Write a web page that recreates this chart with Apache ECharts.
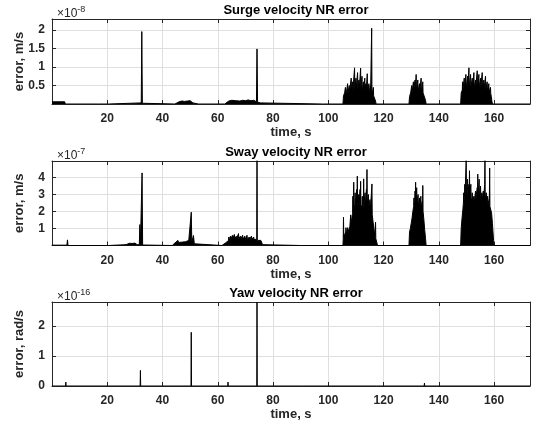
<!DOCTYPE html>
<html>
<head>
<meta charset="utf-8">
<script src="https://cdn.jsdelivr.net/npm/echarts@6/dist/echarts.min.js"></script>
<style>
html,body{margin:0;padding:0;background:#fff;}
#c{width:539px;height:429px;}
</style>
</head>
<body>
<div id="c"></div>
<script>
// ---- data (values in units of the axis exponent) ----
const titles = ['Surge velocity NR error', 'Sway velocity NR error', 'Yaw velocity NR error'];
const yNames = ['error, m/s', 'error, m/s', 'error, rad/s'];
const exponents = ['-8', '-7', '-16'];
const xName = 'time, s';

// Surge error [time s, value x1e-8]
const surgeData = [
[0,0.06],[4.6,0.06],[4.8,0],
[16.8,0],[16.9,0.04],[17.0,0],
[20.5,0],[20.6,0.03],[32.3,0.03],[32.5,1.96],[32.7,0.02],[32.9,0],
[44.5,0],[45,0.04],[46,0.06],[47,0.08],[48,0.07],[49,0.08],[50,0.09],[50.5,0.1],[51,0.03],[51.3,0],
[53,0],[53.1,0.02],[53.3,0],
[62.5,0],[63,0.04],[64,0.08],[65,0.1],[65.2,0.07],[66.5,0.09],[67,0.11],[68,0.08],[69,0.1],[70,0.09],[71,0.11],[72,0.09],[73,0.1],[73.5,0.12],[74,0.06],[74.2,1.49],[74.4,0.05],[75.5,0.03],[76,0],
[97.9,0],[98,0.02],[98.2,0],
[105.3,0],[105.5,0.22],[105.9,0.3],[106.1,0.3],[106.2,0.45],[106.3,0.28],[106.6,0.35],[106.9,0.3],[107.0,0.55],[107.1,0.3],[107.5,0.3],[107.6,0.5],[107.7,0.32],[108.2,0.35],[108.3,0.7],[108.4,0.35],[108.7,0.35],[108.8,0.6],[108.9,0.35],[109.4,0.4],[109.5,0.98],[109.6,0.4],[109.9,0.4],[110.0,0.7],[110.1,0.4],[110.5,0.4],[110.6,0.85],[110.7,0.4],[111.0,0.38],[111.1,0.65],[111.2,0.38],[111.6,0.4],[111.7,0.97],[111.8,0.4],[112.1,0.38],[112.2,0.75],[112.3,0.35],[112.6,0.35],[112.7,0.6],[112.8,0.35],[113.1,0.35],[113.2,0.7],[113.3,0.35],[113.5,0.35],[113.6,0.55],[113.7,0.33],[114.0,0.33],[114.1,0.82],[114.2,0.3],[114.6,0.3],[114.7,0.55],[114.8,0.3],[115.1,0.28],[115.2,0.5],[115.3,0.28],[115.6,0.28],[115.7,2.05],[115.8,0.25],[116.2,0.25],[116.3,0.45],[116.4,0.22],[116.8,0.2],[117.1,0.08],[117.3,0],
[129.2,0],[129.4,0.2],[129.8,0.3],[130.1,0.3],[130.2,0.5],[130.3,0.3],[130.7,0.35],[130.8,0.6],[130.9,0.35],[131.3,0.35],[131.4,0.65],[131.5,0.38],[131.7,0.38],[131.8,0.8],[131.9,0.38],[132.3,0.38],[132.4,0.65],[132.5,0.35],[132.9,0.35],[133.0,0.55],[133.1,0.35],[133.5,0.35],[133.6,0.7],[133.7,0.32],[134.1,0.32],[134.2,0.6],[134.3,0.3],[134.8,0.25],[135.2,0.1],[135.4,0],
[147.9,0],[148.1,0.3],[148.5,0.38],[148.6,0.6],[148.7,0.38],[149.1,0.4],[149.2,0.7],[149.3,0.4],[149.7,0.42],[149.8,0.8],[149.9,0.42],[150.3,0.42],[150.4,0.75],[150.5,0.42],[150.8,0.45],[150.9,0.98],[151.0,0.45],[151.4,0.45],[151.5,0.8],[151.6,0.45],[152.0,0.45],[152.1,0.7],[152.2,0.45],[152.6,0.45],[152.7,0.85],[152.8,0.45],[153.2,0.45],[153.3,0.65],[153.4,0.45],[153.8,0.45],[153.9,0.9],[154.0,0.45],[154.4,0.45],[154.5,0.8],[154.6,0.45],[155.0,0.42],[155.1,0.7],[155.2,0.42],[155.6,0.42],[155.7,0.85],[155.8,0.42],[156.2,0.4],[156.3,0.65],[156.4,0.4],[156.8,0.4],[156.9,0.75],[157.0,0.4],[157.4,0.38],[157.5,0.6],[157.6,0.36],[158.0,0.35],[158.1,0.55],[158.2,0.32],[158.6,0.3],[158.7,0.45],[158.8,0.28],[159.0,0.2],[159.2,0.08],[159.4,0],
[173,0]
];

// Sway error [time s, value x1e-7]
const swayData = [
[0,0.02],[5.4,0.02],[5.6,0.33],[5.8,0],
[20.5,0],[20.6,0.05],[26.8,0.05],[27,0.12],[28,0.13],[29,0.12],[30,0.14],[30.6,0.13],[30.8,0.05],[31.6,0.05],[31.8,1.23],[32,0.05],[32.4,0.05],[32.6,4.27],[32.8,0.03],[33,0],
[43.5,0],[43.8,0.08],[44.5,0.15],[45.2,0.12],[45.6,0.3],[45.8,0.18],[46.5,0.22],[47.2,0.2],[47.8,0.28],[48.3,0.22],[49,0.25],[49.5,0.3],[50,0.25],[50.2,0.3],[50.4,1.96],[50.6,0.2],[51,0.2],[51.2,0.59],[51.5,0.1],[52,0],
[61.5,0],[62,0.08],[62.8,0.15],[63.4,0.25],[63.9,0.3],[64.0,0.5],[64.1,0.3],[64.5,0.35],[64.6,0.55],[64.7,0.35],[65.2,0.38],[65.3,0.6],[65.4,0.38],[65.9,0.38],[66.0,0.65],[66.1,0.38],[66.6,0.38],[66.7,0.55],[66.8,0.38],[67.4,0.4],[67.5,0.7],[67.6,0.4],[68.1,0.4],[68.2,0.55],[68.3,0.38],[68.9,0.38],[69.0,0.6],[69.1,0.38],[69.7,0.38],[69.8,0.55],[69.9,0.36],[70.5,0.36],[70.6,0.6],[70.7,0.36],[71.3,0.36],[71.4,0.5],[71.5,0.36],[72.1,0.36],[72.2,0.55],[72.3,0.36],[72.9,0.36],[73.0,0.5],[73.1,0.36],[74.1,0.36],[74.2,5],[74.3,0.3],[75.0,0.3],[75.6,0.3],[75.7,0.38],[76.0,0.3],[76.2,0.05],[76.5,0],
[90,0],[90.2,0.05],[90.4,0],
[105.3,0],[105.4,0.4],[105.5,1.66],[105.6,0.5],[106.0,0.6],[106.3,0.8],[106.4,1.05],[106.5,0.7],[106.9,0.8],[107.0,1.05],[107.1,0.8],[107.5,0.9],[107.8,1.1],[108.0,1.2],[108.1,1.8],[108.2,1.3],[108.5,1.6],[108.8,1.9],[108.9,2.9],[109.0,2.0],[109.1,2.2],[109.2,3.72],[109.3,2.2],[109.6,2.4],[109.7,3.1],[109.8,2.3],[110.2,2.4],[110.3,3.3],[110.4,2.5],[110.5,4.08],[110.6,2.5],[110.9,2.3],[111.0,3.0],[111.1,2.2],[111.4,2.3],[111.5,3.3],[111.6,2.4],[111.7,3.78],[111.8,2.4],[112.2,2.2],[112.3,2.9],[112.4,2.0],[112.7,2.4],[112.8,3.92],[112.9,2.4],[113.2,2.3],[113.3,3.1],[113.4,2.3],[113.7,2.4],[113.8,3.3],[113.9,2.4],[114.0,4.47],[114.1,2.4],[114.4,2.3],[114.5,3.0],[114.6,2.2],[115.0,2.1],[115.1,2.7],[115.2,2.0],[115.7,2.0],[115.8,3.62],[115.9,1.8],[116.2,1.4],[116.5,1.0],[116.8,0.6],[117.0,0.5],[117.1,1.37],[117.2,0.4],[117.6,0.15],[117.8,0],
[129.2,0],[129.4,0.8],[129.7,1.0],[130.0,1.3],[130.3,1.6],[130.6,2.0],[130.9,2.3],[131.0,2.8],[131.1,2.4],[131.3,2.6],[131.4,3.2],[131.5,2.7],[131.6,3.72],[131.7,2.7],[131.9,2.6],[132.0,3.4],[132.1,2.5],[132.4,2.4],[132.5,3.0],[132.6,2.3],[132.9,2.2],[133.0,2.8],[133.1,2.2],[133.4,2.3],[133.5,2.9],[133.6,2.2],[133.9,2.2],[134.0,2.6],[134.1,2.2],[134.2,3.53],[134.3,2.0],[134.6,1.5],[134.9,0.9],[135.2,0.4],[135.4,0],
[137,0],[137.2,0.05],[137.4,0],[139,0],[139.2,0.08],[139.4,0],
[147.9,0],[148.1,1.0],[148.4,1.6],[148.7,2.1],[148.9,2.5],[149.0,3.1],[149.1,2.6],[149.3,2.9],[149.4,3.6],[149.5,2.9],[149.8,3.0],[149.9,5],[150.0,3.0],[150.3,3.1],[150.4,3.9],[150.5,3.0],[150.8,3.1],[150.9,3.6],[151.0,3.0],[151.1,4.4],[151.2,3.0],[151.5,2.9],[151.6,3.6],[151.7,2.8],[152.0,2.6],[152.1,3.1],[152.2,2.5],[152.6,2.5],[152.7,2.9],[152.8,2.5],[153.2,2.6],[153.3,3.2],[153.4,2.7],[153.8,2.8],[153.9,3.4],[154.0,2.8],[154.1,4.2],[154.2,2.9],[154.5,2.9],[154.6,3.9],[154.7,2.9],[155.0,2.8],[155.1,3.5],[155.2,2.8],[155.5,2.7],[155.6,3.1],[155.7,2.7],[156.0,2.7],[156.1,3.2],[156.2,2.7],[156.5,2.7],[156.6,3.6],[156.7,5],[156.8,2.7],[157.1,2.6],[157.2,3.1],[157.3,2.5],[157.6,2.5],[157.7,2.9],[157.8,2.4],[158.2,2.4],[158.3,2.8],[158.4,4.56],[158.5,2.3],[158.8,2.2],[159.1,1.9],[159.4,1.3],[159.6,0.8],[159.8,0.3],[160,0],
[162,0],[162.2,0.04],[162.4,0],[166,0],[166.2,0.03],[166.4,0],[170,0],[170.2,0.03],[170.4,0],
[173,0]
];

// Yaw error [time s, value x1e-16]
const yawData = [
[0,0],[4.9,0],[5,0.13],[5.1,0],[31.9,0],[32,0.52],[32.1,0],[50.3,0],[50.4,1.79],[50.5,0],
[63.6,0],[63.7,0.13],[63.8,0],[74.1,0],[74.2,2.8],[74.3,0],[90.7,0],[90.8,0.05],[90.9,0],
[117.5,0],[117.6,0.05],[117.7,0],[134.7,0],[134.8,0.1],[134.9,0],[173,0]
];

const xRange = [0, 173];
const xStep = 20;
const yRanges = [[0, 2.3], [0, 4.97], [0, 2.8]];
const ySteps = [0.5, 1, 1];
const showYZero = [false, false, true];

// ---- layout ----
const FONT = 'Liberation Sans, Arial, Helvetica, sans-serif';
const INK = '#262626';
const GRIDC = '#dfdfdf';
const FS = 13;
const TICKFS = 12;
const gridTops = [19, 161, 302];
const gridHeights = [85, 84.5, 84];
const LEFT = 52, RIGHT = 9;
const plotCenter = LEFT + (539 - LEFT - RIGHT) / 2;
const dataSets = [surgeData, swayData, yawData];

const grids = [], xAxes = [], yAxes = [], series = [], titleList = [];
for (let i = 0; i < 3; i++) {
  grids.push({left: LEFT, right: RIGHT, top: gridTops[i], height: gridHeights[i],
    containLabel: false, outerBoundsMode: 'none'});
  const xBase = {
    type: 'value', gridIndex: i, min: xRange[0], max: xRange[1], interval: xStep,
    axisLine: {show: true, onZero: false, lineStyle: {color: INK, width: 1}},
    axisTick: {show: true, inside: true, length: 4, lineStyle: {color: INK}},
    splitLine: {show: false}
  };
  xAxes.push(Object.assign({}, xBase, {
    position: 'bottom',
    name: xName, nameLocation: 'middle', nameGap: 22, nameMoveOverlap: false,
    nameTextStyle: {fontFamily: FONT, fontWeight: 'bold', fontSize: FS, color: INK},
    axisLabel: {show: true, showMinLabel: false, showMaxLabel: false, margin: 9,
      fontFamily: FONT, fontWeight: 'bold', fontSize: TICKFS, color: INK},
    splitLine: {show: true, lineStyle: {color: GRIDC, width: 1}}
  }));
  xAxes.push(Object.assign({}, xBase, {position: 'top', axisLabel: {show: false}}));
  const yBase = {
    type: 'value', gridIndex: i, min: yRanges[i][0], max: yRanges[i][1], interval: ySteps[i],
    axisLine: {show: true, onZero: false, lineStyle: {color: INK, width: 1}},
    axisTick: {show: true, inside: true, length: 4, lineStyle: {color: INK}},
    splitLine: {show: false}
  };
  yAxes.push(Object.assign({}, yBase, {
    position: 'left',
    name: yNames[i], nameLocation: 'middle', nameGap: 26, nameRotate: 90, nameMoveOverlap: false,
    nameTextStyle: {fontFamily: FONT, fontWeight: 'bold', fontSize: FS, color: INK},
    axisLabel: {show: true, showMinLabel: showYZero[i], showMaxLabel: false, margin: 7,
      fontFamily: FONT, fontWeight: 'bold', fontSize: TICKFS, color: INK},
    splitLine: {show: true, lineStyle: {color: GRIDC, width: 1}}
  }));
  yAxes.push(Object.assign({}, yBase, {position: 'right', axisLabel: {show: false}}));

  series.push({
    type: 'line', xAxisIndex: 2 * i, yAxisIndex: 2 * i,
    data: dataSets[i], symbol: 'none', showSymbol: false, animation: false,
    lineStyle: {color: '#000', width: 1},
    areaStyle: i < 2 ? {color: '#000', opacity: 1} : undefined,
    clip: true
  });

  titleList.push({
    text: titles[i], left: plotCenter, textAlign: 'center', top: gridTops[i] - 20,
    textStyle: {fontFamily: FONT, fontWeight: 'bold', fontSize: FS, color: '#000'}
  });
  titleList.push({
    text: '{a|\u00d710}{b|' + exponents[i] + '}', left: LEFT, top: gridTops[i] - 19,
    textStyle: {
      fontWeight: 'normal',
      rich: {
        a: {fontFamily: FONT, fontWeight: 'normal', fontSize: 12, color: INK, verticalAlign: 'bottom', lineHeight: 15},
        b: {fontFamily: FONT, fontWeight: 'normal', fontSize: 9, color: INK, verticalAlign: 'top', lineHeight: 15}
      }
    }
  });
}

const chart = echarts.init(document.getElementById('c'), null, {renderer: 'canvas'});
chart.setOption({
  backgroundColor: '#fff',
  animation: false,
  title: titleList,
  grid: grids,
  xAxis: xAxes,
  yAxis: yAxes,
  series: series
});
</script>
</body>
</html>
